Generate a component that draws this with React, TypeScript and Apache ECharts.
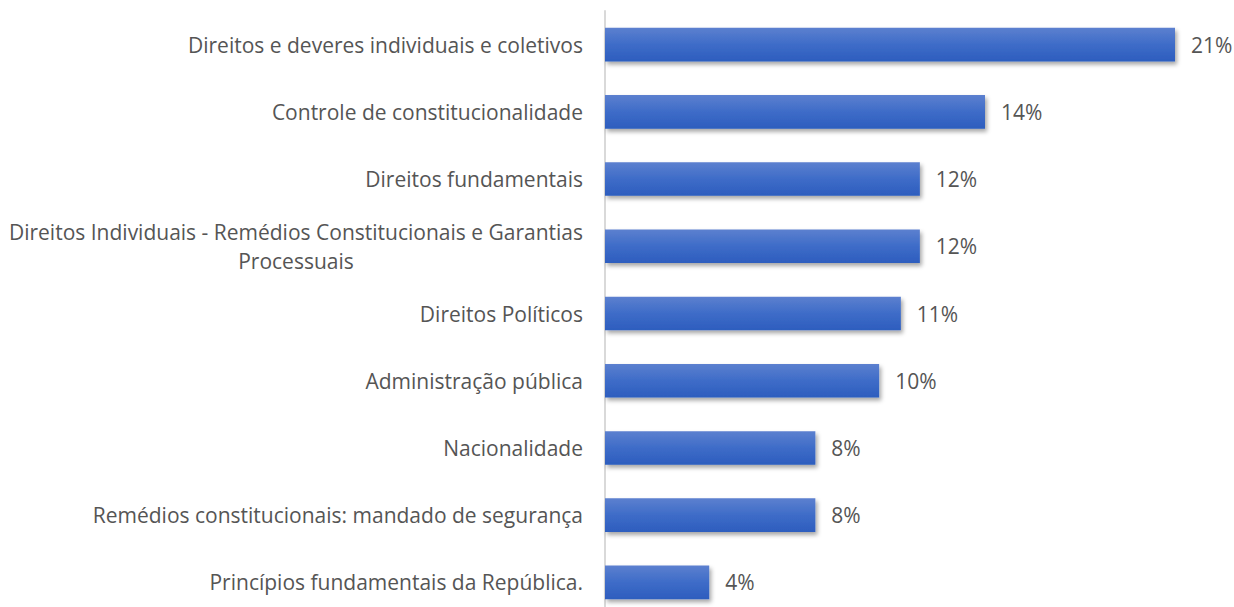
import React, { useEffect, useRef } from "react";
import * as echarts from "echarts";

const categories = [
  "Direitos e deveres individuais e coletivos",
  "Controle de constitucionalidade",
  "Direitos fundamentais",
  "Direitos Individuais - Remédios Constitucionais e Garantias\nProcessuais",
  "Direitos Políticos",
  "Administração pública",
  "Nacionalidade",
  "Remédios constitucionais: mandado de segurança",
  "Princípios fundamentais da República.",
];
const values = [21, 14, 11.6, 11.6, 10.9, 10.1, 7.75, 7.75, 3.84];

const FONT = "Open Sans";
const SIZE = 21;
const COLOR = "#555555";

export default function App() {
  const ref = useRef<HTMLDivElement>(null);
  useEffect(() => {
    const chart = echarts.init(ref.current!, undefined, { renderer: "svg" });
    chart.setOption({
      animation: false,
      grid: { left: 605, right: 59, top: 11, bottom: 0 },
      xAxis: {
        type: "value",
        min: 0,
        max: 21,
        show: false,
      },
      yAxis: {
        type: "category",
        data: categories,
        inverse: true,
        axisLine: { show: true, lineStyle: { color: "#d9d9d9", width: 2 } },
        axisTick: { show: false },
        axisLabel: {
          margin: 22,
          fontFamily: FONT,
          fontSize: SIZE,
          color: COLOR,
          lineHeight: 29,
          formatter: (v: string) =>
            v.split("\n").map((l) => `{c|${l}}`).join("\n"),
          rich: {
            c: { align: "center", fontFamily: FONT, fontSize: SIZE, color: COLOR, lineHeight: 29 },
          },
        },
      },
      series: [
        {
          type: "bar",
          data: values,
          barWidth: "50%",
          itemStyle: {
            color: new echarts.graphic.LinearGradient(0, 0, 0, 1, [
              { offset: 0, color: "#5c80cf" },
              { offset: 0.5, color: "#3e6cc8" },
              { offset: 1, color: "#2d5dbe" },
            ]),
            shadowColor: "rgba(0,0,0,0.35)",
            shadowBlur: 4,
            shadowOffsetX: 2,
            shadowOffsetY: 3,
          },
          label: {
            show: true,
            position: "right",
            distance: 16,
            fontFamily: FONT,
            fontSize: 21,
            color: COLOR,
            formatter: (p: any) => `${Math.round(p.value)}%`,
          },
        },
      ],
    });
    return () => chart.dispose();
  }, []);
  return (
    <div
      ref={ref}
      style={{ position: "fixed", left: 0, top: 0, width: 1234, height: 616, background: "#fff" }}
    />
  );
}
